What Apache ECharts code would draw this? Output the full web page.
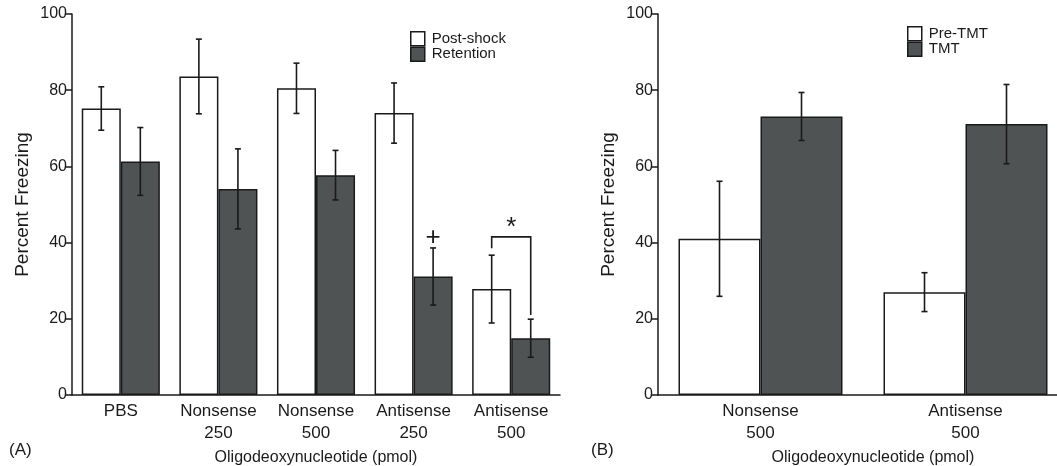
<!DOCTYPE html>
<html>
<head>
<meta charset="utf-8">
<script src="https://cdn.jsdelivr.net/npm/echarts@6/dist/echarts.min.js"></script>
<style>html,body{margin:0;padding:0;background:#fff}#c{width:1057px;height:466px}</style>
</head>
<body>
<div id="c"></div>
<script>
// Panel A data
const catsA = ['PBS', 'Nonsense\n250', 'Nonsense\n500', 'Antisense\n250', 'Antisense\n500'];
const postShock = [75.2, 83.6, 80.5, 74.0, 27.8];
const postShockErr = [5.7, 9.8, 6.6, 7.9, 8.9];
const retention = [61.3, 54.1, 57.7, 31.1, 14.9];
const retentionErr = [8.9, 10.5, 6.5, 7.5, 5.0];
// Panel B data
const catsB = ['Nonsense\n500', 'Antisense\n500'];
const preTMT = [41.0, 27.0];
const preTMTErr = [15.1, 5.1];
const tmt = [73.1, 71.1];
const tmtErr = [6.3, 10.4];
// y ticks
const yTicks = [0, 20, 40, 60, 80, 100];
// annotations: [category index, bar side (-1 left, 1 right, 0 centre), value, text]
const annotsA = [[3, 1, 41.2, '+'], [4, 0, 43.8, '*']];
// bracket: [category index, top value, left bottom value, right bottom value]
const bracketA = [[4, 41.5, 38.5, 21.0]];

const FONT = '"Liberation Sans", Arial, sans-serif';
const DARK = '#505354';
const ink = '#1a1a1a';

function errData(vals, errs) { return vals.map((v, i) => [i, v - errs[i], v + errs[i]]); }

function errSeries(xi, yi, data, side) {
  return {
    type: 'custom', xAxisIndex: xi, yAxisIndex: yi, z: 5, silent: true,
    data: data,
    renderItem: function (params, api) {
      const band = api.size([1, 0])[0];
      const cx = api.coord([api.value(0), 0])[0] + side * band * 0.2;
      const yl = api.coord([api.value(0), api.value(1)])[1];
      const yh = api.coord([api.value(0), api.value(2)])[1];
      const st = { stroke: ink, lineWidth: 1.6 };
      return { type: 'group', children: [
        { type: 'line', shape: { x1: cx, y1: yl, x2: cx, y2: yh }, style: st },
        { type: 'line', shape: { x1: cx - 3, y1: yl, x2: cx + 3, y2: yl }, style: st },
        { type: 'line', shape: { x1: cx - 3, y1: yh, x2: cx + 3, y2: yh }, style: st }
      ]};
    }
  };
}

function yAxisCfg(gi) {
  return {
    gridIndex: gi, type: 'value', min: 0, max: 100, interval: 20,
    name: 'Percent Freezing', nameLocation: 'middle', nameGap: 40,
    nameTextStyle: { fontFamily: FONT, fontSize: 19, color: ink },
    axisLine: { show: true, lineStyle: { color: ink, width: 1.5 } },
    axisTick: { show: true, length: 6, lineStyle: { color: ink, width: 1.5 } },
    axisLabel: { fontFamily: FONT, fontSize: 16, color: ink, margin: 5,
      formatter: v => (yTicks.indexOf(v) >= 0 ? String(v) : '') },
    splitLine: { show: false }
  };
}
function xAxisCfg(gi, cats, namePad) {
  return {
    gridIndex: gi, type: 'category', data: cats,
    name: 'Oligodeoxynucleotide (pmol)', nameLocation: 'middle', nameGap: 55,
    nameTextStyle: { fontFamily: FONT, fontSize: 16, color: ink, padding: namePad },
    axisLine: { show: true, lineStyle: { color: ink, width: 1.5 } },
    axisTick: { show: false },
    axisLabel: { fontFamily: FONT, fontSize: 17, color: ink, margin: 5, lineHeight: 22, interval: 0 }
  };
}
function barSeries(name, xi, yi, data, color) {
  return {
    name: name, type: 'bar', xAxisIndex: xi, yAxisIndex: yi, data: data,
    barGap: '0%', barCategoryGap: '20%',
    itemStyle: { color: color, borderColor: ink, borderWidth: 1.5 },
    emphasis: { disabled: true }
  };
}
function legendCfg(names, left, top) {
  return { data: names, orient: 'vertical', left: left, top: top, padding: 0,
    itemWidth: 14, itemHeight: 14, itemGap: 0, icon: 'rect',
    itemStyle: { borderColor: ink, borderWidth: 1.5 },
    textStyle: { fontFamily: FONT, fontSize: 15, lineHeight: 14, color: ink, padding: [0, 0, 0, 2] } };
}

const chart = echarts.init(document.getElementById('c'), null, { renderer: 'canvas' });
chart.setOption({
  animation: false,
  backgroundColor: '#fff',
  grid: [
    { left: 72, top: 14, width: 488, height: 381, outerBoundsMode: 'none' },
    { left: 658, top: 14, width: 410, height: 381, outerBoundsMode: 'none' }
  ],
  xAxis: [xAxisCfg(0, catsA, 0), xAxisCfg(1, catsB, [0, 0, 0, 20])],
  yAxis: [yAxisCfg(0), yAxisCfg(1)],
  legend: [
    legendCfg(['Post-shock', 'Retention'], 410, 31),
    legendCfg(['Pre-TMT', 'TMT'], 907, 26)
  ],
  graphic: [
    { type: 'text', left: 9, top: 442, style: { text: '(A)', fontFamily: FONT, fontSize: 17, fill: ink } },
    { type: 'text', left: 591, top: 442, style: { text: '(B)', fontFamily: FONT, fontSize: 17, fill: ink } }
  ],
  series: [
    barSeries('Post-shock', 0, 0, postShock, '#ffffff'),
    barSeries('Retention', 0, 0, retention, DARK),
    errSeries(0, 0, errData(postShock, postShockErr), -1),
    errSeries(0, 0, errData(retention, retentionErr), 1),
    barSeries('Pre-TMT', 1, 1, preTMT, '#ffffff'),
    barSeries('TMT', 1, 1, tmt, DARK),
    errSeries(1, 1, errData(preTMT, preTMTErr), -1),
    errSeries(1, 1, errData(tmt, tmtErr), 1),
    {
      type: 'custom', xAxisIndex: 0, yAxisIndex: 0, z: 6, silent: true,
      data: annotsA,
      renderItem: function (params, api) {
        const band = api.size([1, 0])[0];
        const p = api.coord([api.value(0), api.value(2)]);
        return { type: 'text', x: p[0] + api.value(1) * band * 0.2, y: p[1],
          style: { text: annotsA[params.dataIndex][3], fontFamily: FONT, fontSize: 26,
            fill: ink, align: 'center', verticalAlign: 'middle' } };
      }
    },
    {
      type: 'custom', xAxisIndex: 0, yAxisIndex: 0, z: 6, silent: true,
      data: bracketA,
      renderItem: function (params, api) {
        const band = api.size([1, 0])[0];
        const c = api.coord([api.value(0), api.value(1)]);
        const xl = c[0] - band * 0.2, xr = c[0] + band * 0.2;
        const yl = api.coord([api.value(0), api.value(2)])[1];
        const yr = api.coord([api.value(0), api.value(3)])[1];
        return { type: 'polyline', shape: { points: [[xl, yl], [xl, c[1]], [xr, c[1]], [xr, yr]] },
          style: { stroke: ink, lineWidth: 1.6, fill: null } };
      }
    }
  ]
});
</script>
</body>
</html>
